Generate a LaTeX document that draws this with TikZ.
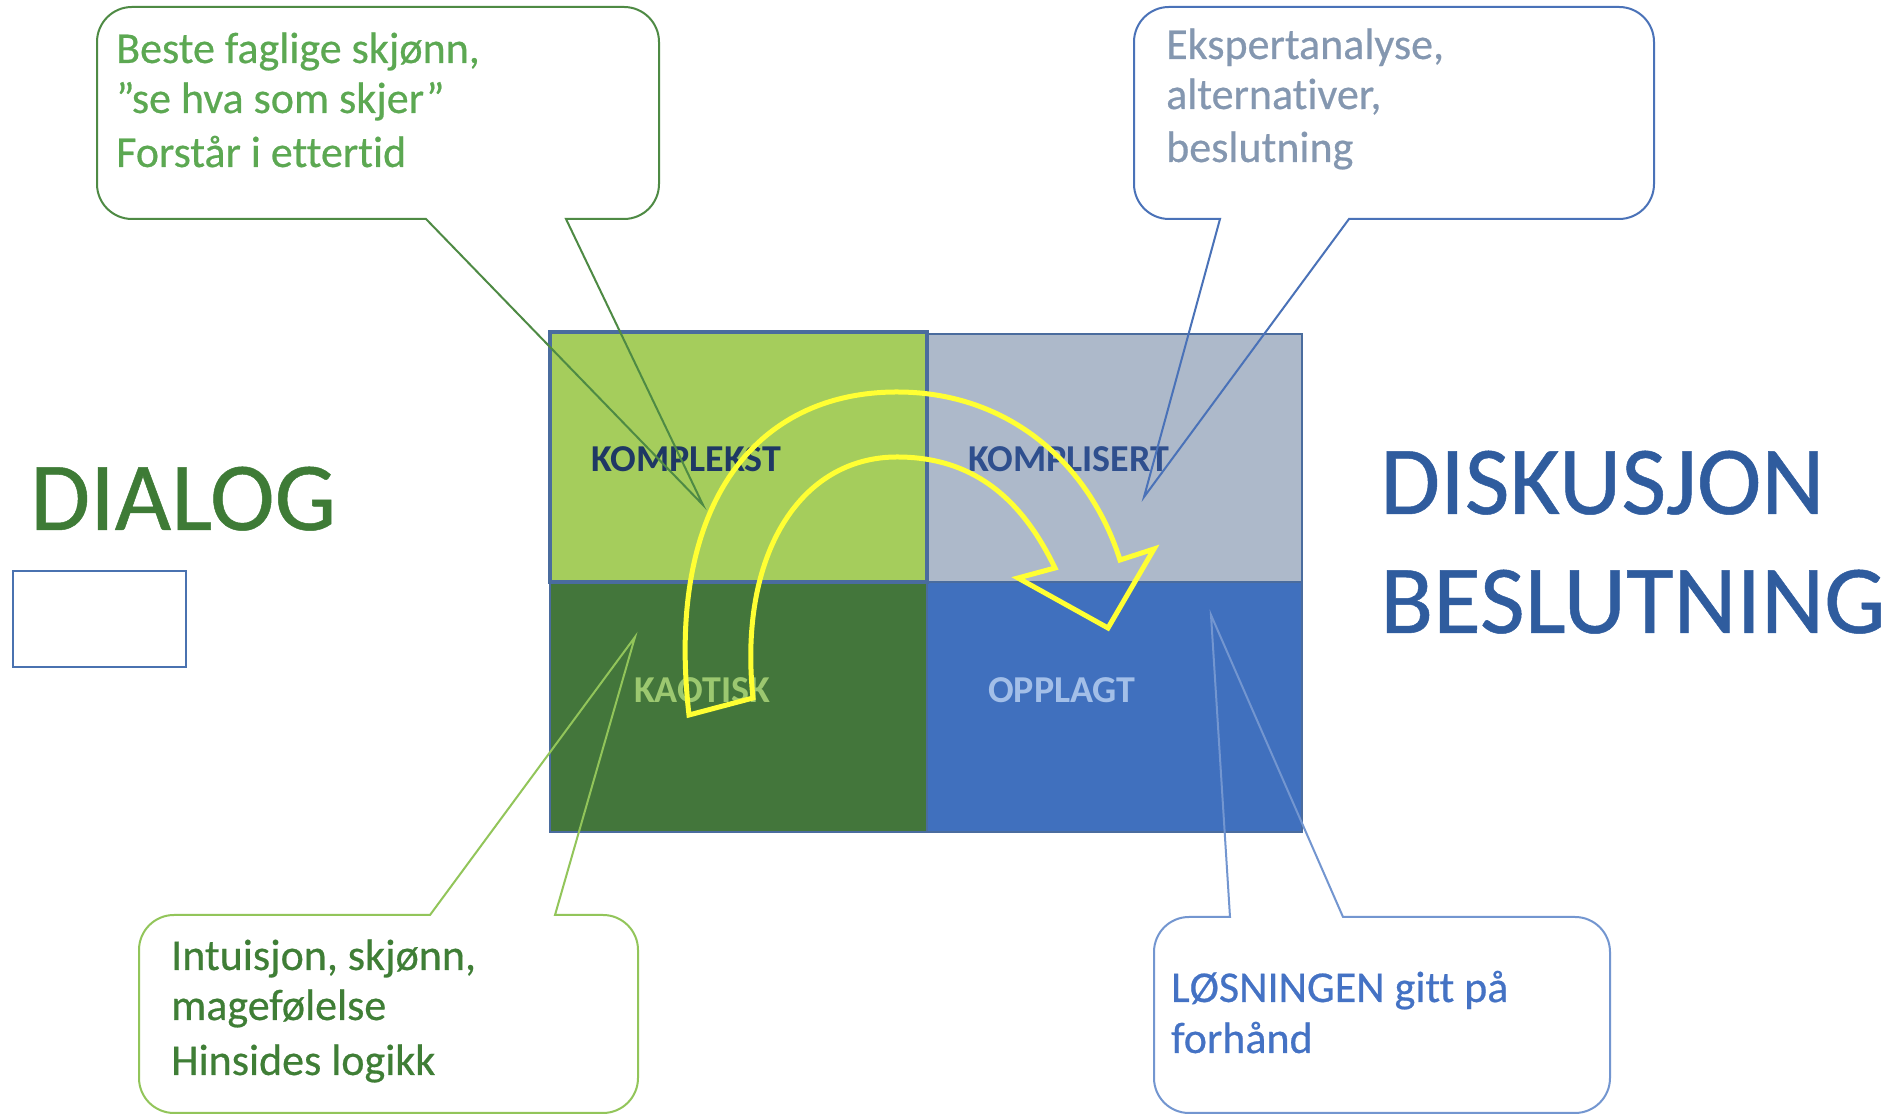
\documentclass[tikz,border=0pt]{standalone}
\usepackage{fontspec}
\setmainfont{Carlito}[Ligatures=NoCommon,FakeBold=0.5]
\newfontfamily\labelfont{Carlito}[Ligatures=NoCommon]
\definecolor{cTL}{HTML}{A5CD5C}
\definecolor{cTR}{HTML}{ADB9CA}
\definecolor{cBL}{HTML}{43763B}
\definecolor{cBR}{HTML}{4070BE}
\definecolor{gridline}{HTML}{4A6C9E}
\definecolor{lKomplekst}{HTML}{1F3864}
\definecolor{lKomplisert}{HTML}{2F4F8E}
\definecolor{lKaotisk}{HTML}{9CC870}
\definecolor{lOpplagt}{HTML}{A3BFE8}
\definecolor{arrowyellow}{HTML}{FFFF33}
\definecolor{tTL}{HTML}{5CA852}
\definecolor{oTL}{HTML}{4E8A44}
\definecolor{tTR}{HTML}{8497B0}
\definecolor{oTR}{HTML}{4A72B8}
\definecolor{tBL}{HTML}{3F7E36}
\definecolor{oBL}{HTML}{92C55A}
\definecolor{tBR}{HTML}{4472C4}
\definecolor{oBR}{HTML}{7396D0}
\definecolor{dialog}{HTML}{3E7B36}
\definecolor{diskusjon}{HTML}{2F5C9E}
\definecolor{smallbox}{HTML}{4A72B0}
\begin{document}
\begin{tikzpicture}[x=1pt,y=1pt,
  cell/.style={draw=gridline,line width=2.5pt},
  lbl/.style={anchor=base west,inner sep=0pt,font=\labelfont\fontsize{38}{44}\selectfont\bfseries},
  ctext/.style={anchor=base west,inner sep=0pt,font=\fontsize{44}{52}\selectfont},
  big/.style={anchor=base west,inner sep=0pt,font=\fontsize{97.5}{117}\selectfont},
  bubble/.style={line width=2pt,line join=miter},
  turnarrow/.style={draw=arrowyellow,line width=5pt,line join=miter},
]
\useasboundingbox[fill=white] (0,0) rectangle (1901,1115);

% grid cells
\path[cell,fill=cTR] (927,533) rectangle (1302,781);
\path[cell,fill=cBL] (550,283) rectangle (927,533);
\path[cell,fill=cBR] (927,283) rectangle (1302,533);
\path[cell,fill=cTL,line width=3.5pt] (550,533) rectangle (927,783);

% cell labels
\node[lbl,text=lKomplekst] (komplekst) at (591,643) {KOMPLEKST};
\node[lbl,text=lKomplisert] (komplisert) at (968,643) {KOMPLISERT};
\node[lbl,text=lKaotisk] (kaotisk) at (634,412) {KAOTISK};
\node[lbl,text=lOpplagt] (opplagt) at (988,412) {OPPLAGT};

% callout top-left
\draw[bubble,draw=oTL] (426,896) -- (703,610) -- (566,896) -- (624,896)
  arc[start angle=270,end angle=360,radius=35pt] -- (659,1073)
  arc[start angle=0,end angle=90,radius=35pt] -- (132,1108)
  arc[start angle=90,end angle=180,radius=35pt] -- (97,931)
  arc[start angle=180,end angle=270,radius=35pt] -- cycle;
\node[ctext,text=tTL] (tl1) at (116,1052) {Beste faglige skjønn,};
\node[ctext,text=tTL] (tl2) at (116,1002) {”se hva som skjer”};
\node[ctext,text=tTL] (tl3) at (116,948) {Forstår i ettertid};

% callout top-right
\draw[bubble,draw=oTR] (1220,896) -- (1144,618) -- (1349,896) -- (1619,896)
  arc[start angle=270,end angle=360,radius=35pt] -- (1654,1073)
  arc[start angle=0,end angle=90,radius=35pt] -- (1169,1108)
  arc[start angle=90,end angle=180,radius=35pt] -- (1134,931)
  arc[start angle=180,end angle=270,radius=35pt] -- cycle;
\node[ctext,text=tTR] (tr1) at (1166,1056) {Ekspertanalyse,};
\node[ctext,text=tTR] (tr2) at (1166,1006) {alternativer,};
\node[ctext,text=tTR] (tr3) at (1166,953) {beslutning};

% callout bottom-left
\draw[bubble,draw=oBL] (430,200) -- (635,478) -- (555,200) -- (603,200)
  arc[start angle=90,end angle=0,radius=35pt] -- (638,37)
  arc[start angle=0,end angle=-90,radius=35pt] -- (174,2)
  arc[start angle=270,end angle=180,radius=35pt] -- (139,165)
  arc[start angle=180,end angle=90,radius=35pt] -- cycle;
\node[ctext,text=tBL] (bl1) at (171,145) {Intuisjon, skjønn,};
\node[ctext,text=tBL] (bl2) at (171,95) {magefølelse};
\node[ctext,text=tBL] (bl3) at (171,40) {Hinsides logikk};

% callout bottom-right
\draw[bubble,draw=oBR] (1230,198) -- (1211,500) -- (1343,198) -- (1575,198)
  arc[start angle=90,end angle=0,radius=35pt] -- (1610,37)
  arc[start angle=0,end angle=-90,radius=35pt] -- (1189,2)
  arc[start angle=270,end angle=180,radius=35pt] -- (1154,163)
  arc[start angle=180,end angle=90,radius=35pt] -- cycle;
\node[ctext,text=tBR] (br1) at (1171,113) {LØSNINGEN gitt på};
\node[ctext,text=tBR] (br2) at (1171,62) {forhånd};

% yellow U-turn arrow
\draw[turnarrow] (689,400) .. controls (665,610) and (755,723) .. (897,723)
  .. controls (1010,723) and (1090,650) .. (1120,555)
  -- (1154,566) -- (1108,487) -- (1018,537) -- (1055,547)
  .. controls (1020,620) and (970,658) .. (897,658)
  .. controls (800,658) and (738,560) .. (753,417) -- cycle;

% side titles
\node[big,text=dialog] (dialog) at (30,585) {DIALOG};
\draw[smallbox,line width=2.5pt] (13,448) rectangle (186,544);
\node[big,text=diskusjon] (diskusjon) at (1380,601) {DISKUSJON};
\node[big,text=diskusjon] (beslutning) at (1380,482) {BESLUTNING};
\end{tikzpicture}
\end{document}
